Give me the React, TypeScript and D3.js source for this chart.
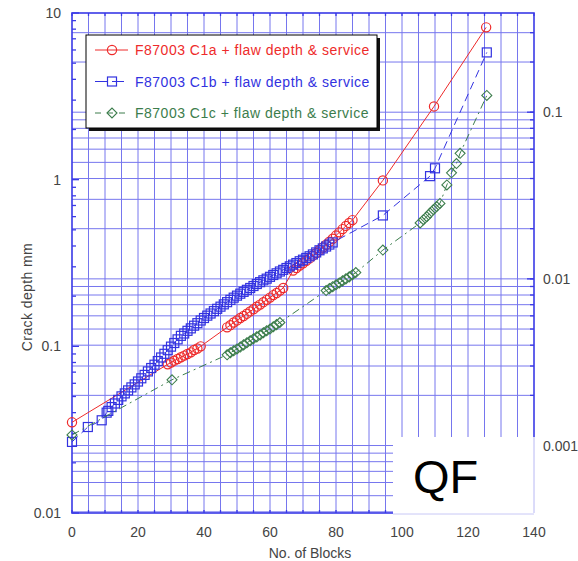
import React from "react";
import * as d3 from "d3";

// ---------- data ----------
const seriesNames = [
  "F87003 C1a + flaw depth & service",
  "F87003 C1b + flaw depth & service",
  "F87003 C1c + flaw depth & service",
];

const blocksA = [0, 29, 30, 31, 32, 33, 34, 35, 36, 37, 38, 39,
  47, 48, 49, 50, 51, 52, 53, 54, 55, 56, 57, 58, 59, 60, 61, 62, 63, 64,
  67, 68, 69, 70, 71, 72, 73, 74, 75, 76, 77, 78, 79, 80, 81, 82, 83, 84, 85,
  94.2, 109.7, 125.5];
const depthA = [0.035, 0.078, 0.08, 0.082, 0.084, 0.086, 0.088, 0.09, 0.092, 0.095, 0.097, 0.1,
  0.13, 0.134, 0.139, 0.143, 0.148, 0.152, 0.157, 0.162, 0.167, 0.173, 0.178, 0.184, 0.19, 0.196, 0.203, 0.209, 0.216, 0.224,
  0.285, 0.295, 0.305, 0.315, 0.326, 0.337, 0.35, 0.363, 0.377, 0.392, 0.407, 0.424, 0.442, 0.462, 0.483, 0.505, 0.528, 0.55, 0.572,
  0.99, 2.75, 8.2];

const blocksB = [0, 4.8, 9, 10.5, 11, 12, 13, 14, 15, 16, 17, 18, 19, 20, 21, 22, 23, 24, 25,
  26, 27, 28, 29, 30, 31, 32, 33, 34, 35, 36, 37, 38, 39, 40,
  41, 42, 43, 44, 45, 46, 47, 48, 49, 50, 51, 52, 53, 54, 55, 56, 57,
  58, 59, 60, 61, 62, 63, 64, 65, 66, 67, 68, 69, 70, 71, 72,
  73, 74, 75, 76, 77, 78, 79, 94.2, 108.5, 110, 125.7];
const depthB = [0.0267, 0.0328, 0.036, 0.04, 0.041, 0.0432, 0.0454, 0.0477, 0.0501, 0.0522, 0.0544, 0.0567, 0.0591, 0.0615, 0.0643, 0.0674, 0.0707, 0.0741, 0.0776,
  0.0816, 0.0857, 0.0902, 0.0948, 0.0996, 0.1047, 0.1101, 0.1156, 0.1194, 0.1239, 0.1282, 0.133, 0.1377, 0.1429, 0.1479,
  0.1528, 0.1574, 0.1626, 0.1679, 0.173, 0.1786, 0.1841, 0.1901, 0.1959, 0.2014, 0.207, 0.2123, 0.2183, 0.2239, 0.2301, 0.2366, 0.2427,
  0.2489, 0.2547, 0.2612, 0.2679, 0.2742, 0.2812, 0.2877, 0.2951, 0.302, 0.309, 0.316, 0.324, 0.331, 0.339, 0.347,
  0.356, 0.366, 0.377, 0.387, 0.397, 0.408, 0.42, 0.61, 1.05, 1.17, 5.8];

const blocksC = [0, 30.3, 47, 48, 49, 50, 51, 52, 53, 54, 55, 56, 57, 58, 59, 60, 61, 62, 63,
  77, 78, 79, 80, 81, 82, 83, 84, 85, 86, 94.2,
  105.5, 106.5, 107.5, 108.5, 109.5, 110.5, 111.5, 113.6, 115, 116.5, 117.6, 125.7];
const depthC = [0.0294, 0.063, 0.089, 0.0915, 0.094, 0.0965, 0.099, 0.102, 0.105, 0.108, 0.111, 0.114, 0.117, 0.1205, 0.124, 0.127, 0.131, 0.135, 0.139,
  0.216, 0.222, 0.228, 0.234, 0.24, 0.247, 0.254, 0.261, 0.269, 0.277, 0.378,
  0.55, 0.575, 0.6, 0.63, 0.66, 0.69, 0.72, 0.93, 1.1, 1.25, 1.44, 3.2];

const xTicks = [0, 20, 40, 60, 80, 100, 120, 140];
const yTicksMm = [0.01, 0.1, 1, 10];
const yTicksIn = [0.001, 0.01, 0.1];
const mmPerInch = 25.4;

// ---------- layout ----------
const W = 578, H = 561;
const L = 72, R = 534, T = 13, B = 513;

const x = d3.scaleLinear().domain([0, 140]).range([L, R]);
const y = d3.scaleLog().domain([0.01, 10]).range([B, T]);
const yIn = d3.scaleLog().domain([0.01 / mmPerInch, 10 / mmPerInch]).range([B, T]);

const RED = "#ee2b2b";
const BLUE = "#3232e0";
const GREEN = "#3c7d4c";
const GRID = "#7676ee";
const FRAME = "#3a3ae6";

function marker(kind: string, cx: number, cy: number, color: string, key: any) {
  if (kind === "circle")
    return <circle key={key} cx={cx} cy={cy} r={4.6} fill="none" stroke={color} strokeWidth={1.2} />;
  if (kind === "square")
    return <rect key={key} x={cx - 4.5} y={cy - 4.5} width={9} height={9} fill="none" stroke={color} strokeWidth={1.2} />;
  return (
    <path key={key} d={`M${cx - 5},${cy} L${cx},${cy - 5} L${cx + 5},${cy} L${cx},${cy + 5} Z`}
      fill="none" stroke={color} strokeWidth={1.1} />
  );
}

export default function App() {
  const series = [
    { xs: blocksA, ys: depthA, color: RED, kind: "circle", dash: "none" },
    { xs: blocksB, ys: depthB, color: BLUE, kind: "square", dash: "8,5" },
    { xs: blocksC, ys: depthC, color: GREEN, kind: "diamond", dash: "8,4,2,4" },
  ];
  const line = d3.line<[number, number]>().x((d) => x(d[0])).y((d) => y(d[1]));

  const vGrid = d3.range(5, 140, 5);
  const hGrid: number[] = [];
  const [i0, i1] = yIn.domain();
  for (let e = -4; e <= 0; e++) {
    for (let k = 1; k <= 9; k++) {
      const v = k * Math.pow(10, e);
      if (v >= i0 && v <= i1) hGrid.push(v);
    }
  }
  const leftMinor: number[] = [];
  for (let e = -2; e <= 0; e++) for (let k = 2; k <= 9; k++) leftMinor.push(k * Math.pow(10, e));

  const font = "Arial, 'Liberation Sans', sans-serif";

  return (
    <svg width={W} height={H} style={{ position: "absolute", left: 0, top: 0, background: "#fff" }} fontFamily={font}>
      <g stroke={GRID} strokeWidth={1}>
        {vGrid.map((v) => (
          <line key={"v" + v} x1={x(v)} x2={x(v)} y1={T} y2={B} />
        ))}
        {hGrid.map((v, i) => (
          <line key={"h" + i} x1={L} x2={R} y1={yIn(v)} y2={yIn(v)} />
        ))}
      </g>
      <g stroke={FRAME} strokeWidth={1.3}>
        {leftMinor.map((v, i) => (
          <line key={"lm" + i} x1={L} x2={L + 4} y1={y(v)} y2={y(v)} />
        ))}
        {yTicksMm.map((v, i) => (
          <line key={"lM" + i} x1={L} x2={L + 7} y1={y(v)} y2={y(v)} />
        ))}
        {hGrid.map((v, i) => (
          <line key={"rm" + i} x1={R - 4} x2={R} y1={yIn(v)} y2={yIn(v)} />
        ))}
        {yTicksIn.map((v, i) => (
          <line key={"rM" + i} x1={R - 7} x2={R} y1={yIn(v)} y2={yIn(v)} />
        ))}
        {d3.range(0, 141, 5).map((v) => (
          <line key={"b" + v} x1={x(v)} x2={x(v)} y1={B} y2={B - 3} />
        ))}
        {d3.range(0, 141, 5).map((v) => (
          <line key={"t" + v} x1={x(v)} x2={x(v)} y1={T} y2={T + 3} />
        ))}
      </g>
      <rect x={L} y={T} width={R - L} height={B - T} fill="none" stroke={FRAME} strokeWidth={1.6} />

      {series.map((s, si) => {
        const pts = s.xs.map((v, i) => [v, s.ys[i]] as [number, number]);
        return (
          <g key={"s" + si}>
            <path d={line(pts) || ""} fill="none" stroke={s.color} strokeWidth={1} strokeDasharray={s.dash} />
            {pts.map((p, i) => marker(s.kind, x(p[0]), y(p[1]), s.color, i))}
          </g>
        );
      })}

      {/* QF box */}
      <rect x={393} y={437} width={R - 393 + 1} height={B - 437 + 2} fill="#fff" />
      <line x1={R} x2={R} y1={437} y2={B} stroke="#b8b8f4" strokeWidth={1} />
      <line x1={393} x2={R} y1={B + 1} y2={B + 1} stroke="#c8c8f6" strokeWidth={1} />
      <text x={413} y={493} fontSize={47} fill="#000" fontFamily={font}>QF</text>

      {/* legend */}
      <rect x={89} y={38} width={291} height={93} fill="#111" />
      <rect x={86} y={35} width={291} height={93} fill="#fff" stroke="#000" strokeWidth={1} />
      {series.map((s, i) => {
        const ly = 50 + i * 31.5;
        return (
          <g key={"lg" + i}>
            <line x1={95} x2={128} y1={ly} y2={ly} stroke={s.color} strokeWidth={1} strokeDasharray={s.dash === "none" ? "none" : s.dash === "8,5" ? "12,5" : "6,6"} />
            {marker(s.kind, 112, ly, s.color, "m")}
            <text x={135} y={ly} dy="0.36em" fontSize={14} letterSpacing={0.5} fill={s.color}>{seriesNames[i]}</text>
          </g>
        );
      })}

      <g fontSize={14} fill="#444">
        {xTicks.map((v) => (
          <text key={"xt" + v} x={x(v)} y={537} textAnchor="middle">{v}</text>
        ))}
        {yTicksMm.map((v) => (
          <text key={"yt" + v} x={61} y={y(v)} dy="0.36em" textAnchor="end">{String(v)}</text>
        ))}
        {yTicksIn.map((v) => (
          <text key={"yr" + v} x={543} y={yIn(v)} dy="0.36em" textAnchor="start">{String(v)}</text>
        ))}
      </g>
      <text x={310} y={558} fontSize={14} fill="#444" textAnchor="middle">No. of Blocks</text>
      <text transform="translate(32,297) rotate(-90)" fontSize={14} letterSpacing={0.4} fill="#444" textAnchor="middle">Crack depth mm</text>
    </svg>
  );
}
